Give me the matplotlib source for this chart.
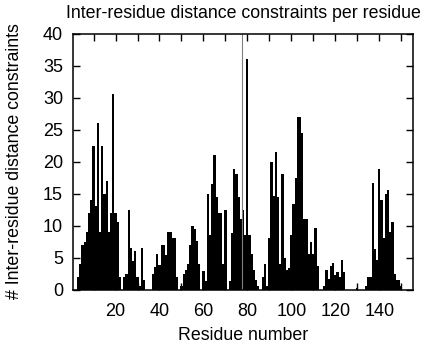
import numpy as np
import matplotlib
matplotlib.use('Agg')
import matplotlib.pyplot as plt
from matplotlib.ticker import MultipleLocator

plt.rcParams['font.family'] = ['Liberation Sans', 'DejaVu Sans']

# number of inter-residue constraints for residues 1..155
constraints = [
    0, 0, 2, 4, 7, 7.5, 9, 12, 14, 22.5,
    13, 26, 9, 22.5, 15, 17, 9, 12, 30.5, 12,
    10.5, 2, 0, 2, 2.5, 12.5, 6.5, 4.5, 6, 2,
    0.5, 6.5, 1.5, 0, 0, 0, 2.5, 3.5, 5.5, 3.9,
    7, 7, 5.4, 9, 9, 8, 8, 2, 0, 0.5,
    2.5, 3, 4, 7, 9.9, 9.4, 7.6, 4, 0, 2.9,
    1.3, 15, 8.5, 16.5, 21, 14.5, 12, 12, 4, 12.5,
    0, 1.3, 8.8, 18.9, 18, 14.5, 11, 12.4, 8.5, 36,
    8.5, 5.5, 3, 1.5, 0.5, 0, 2, 4, 0.5, 8,
    20, 14.6, 21.5, 14.5, 4, 18, 5, 3, 3.3, 8.5,
    13.3, 17.5, 27, 27, 24.5, 11, 11, 5.5, 7.5, 5.5,
    9.6, 3.6, 0, 0, 0.5, 3, 1.6, 3.6, 4.1, 2.2,
    2.8, 2, 4.6, 2.7, 0, 0, 0, 0, 0, 0.3,
    0, 0, 0, 0.5, 2, 2, 16.6, 6.4, 4.6, 18.9,
    14, 8, 15, 15.5, 9, 10.6, 2.5, 1.5, 1.5, 0.5,
    0, 0, 0, 0, 0,
]
residues = np.arange(1, len(constraints) + 1)

# one residue whose count runs off the top of the scale
offscale_residue = 77.5

fig = plt.figure(figsize=(4.24, 3.44), dpi=100)
ax = fig.add_axes([72.7 / 424, 1 - 289.5 / 344, 340.6 / 424, 256 / 344])

ax.bar(residues, constraints, width=1.0, color='black', edgecolor='none', linewidth=0)
ax.axvline(offscale_residue, color='#808080', linewidth=0.8)

ax.set_xlim(0.5, 155.5)
ax.set_ylim(0, 40)
ax.xaxis.set_major_locator(MultipleLocator(20))
ax.xaxis.set_minor_locator(MultipleLocator(10))
ax.yaxis.set_major_locator(MultipleLocator(5))
ax.tick_params(which='both', direction='in', top=True, right=True,
               length=5, width=1, labelsize=13)
ax.tick_params(axis='x', pad=10)
ax.tick_params(axis='y', pad=7)
for s in ax.spines.values():
    s.set_linewidth(1.1)

ax.set_title('Inter-residue distance constraints per residue', fontsize=12.8, pad=11)
ax.set_xlabel('Residue number', fontsize=12.8, labelpad=5)
ax.set_ylabel('# Inter-residue distance constraints', fontsize=12.8, labelpad=14)

fig.savefig('out.png', dpi=100)
